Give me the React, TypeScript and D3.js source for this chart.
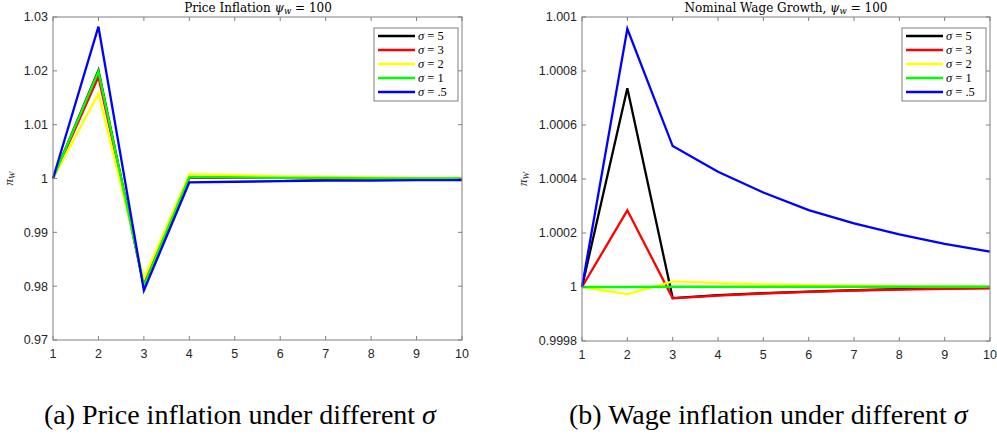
import React from "react";
import * as d3 from "d3";

const periods = [1, 2, 3, 4, 5, 6, 7, 8, 9, 10];
const seriesLabels = ["5", "3", "2", "1", ".5"];
const seriesColors = ["#000000", "#ff0000", "#ffff00", "#00ff00", "#0000ff"];

// Price inflation
const priceS5 = [1, 1.0201, 0.9800, 1.0002, 1.0001, 1.0001, 1.0000, 1.0000, 1.0000, 1.0000];
const priceS3 = [1, 1.0189, 0.9805, 1.0002, 1.0001, 1.0001, 1.0000, 1.0000, 1.0000, 1.0000];
const priceS2 = [1, 1.0158, 0.9814, 1.0008, 1.0006, 1.0004, 1.0003, 1.0002, 1.0001, 1.0001];
const priceS1 = [1, 1.0199, 0.9801, 1.0003, 1.0002, 1.0001, 1.0001, 1.0000, 1.0000, 1.0000];
const priceS05 = [1, 1.0282, 0.9792, 0.9993, 0.9994, 0.9995, 0.9996, 0.9996, 0.9997, 0.9997];

// Nominal wage growth
const wageS5 = [1, 1.000736, 0.999959, 0.99997, 0.999977, 0.999983, 0.999988, 0.999992, 0.999995, 0.999997];
const wageS3 = [1, 1.000284, 0.999958, 0.999968, 0.999976, 0.999982, 0.999987, 0.99999, 0.999993, 0.999995];
const wageS2 = [1, 0.999974, 1.000021, 1.000015, 1.00001, 1.000007, 1.000005, 1.000003, 1.000002, 1.000001];
const wageS1 = [1, 1.0, 1.000001, 1.000001, 1.000001, 1.000001, 1.000001, 1.000001, 1.000001, 1.000001];
const wageS05 = [1, 1.000956, 1.000522, 1.000427, 1.00035, 1.000285, 1.000236, 1.000195, 1.00016, 1.000131];

const priceTicks = [0.97, 0.98, 0.99, 1, 1.01, 1.02, 1.03];
const priceTickLabels = ["0.97", "0.98", "0.99", "1", "1.01", "1.02", "1.03"];
const wageTicks = [0.9998, 1, 1.0002, 1.0004, 1.0006, 1.0008, 1.001];
const wageTickLabels = ["0.9998", "1", "1.0002", "1.0004", "1.0006", "1.0008", "1.001"];

const priceSeries = [priceS5, priceS3, priceS2, priceS1, priceS05];
const wageSeries = [wageS5, wageS3, wageS2, wageS1, wageS05];

const serif = "'Liberation Serif', 'Times New Roman', serif";
const mathSerif = "'DejaVu Serif', 'Liberation Serif', serif";
const sans = "Arial, 'Liberation Sans', Helvetica, sans-serif";
const axisColor = "#808080";
const textColor = "#262626";

type PanelProps = {
  x0: number; x1: number; y0: number; y1: number;
  domain: [number, number];
  ticks: number[]; tickLabels: string[];
  series: number[][];
  titleMain: string; titleX: number;
  ylabelX: number;
  legendX: number;
};

function Panel(p: PanelProps) {
  const xs = d3.scaleLinear().domain([1, 10]).range([p.x0, p.x1]);
  const ys = d3.scaleLinear().domain(p.domain).range([p.y1, p.y0]);
  const line = d3.line<number>().x((_, i) => xs(periods[i])).y((d) => ys(d));
  const tickLen = 4;
  const lw = 84, lh = 73;
  const ly = 28;
  return (
    <g>
      {/* title */}
      <text x={p.titleX} y={12} textAnchor="middle" fontFamily={mathSerif} fontSize={12} fill="#000">
        {p.titleMain}
        <tspan fontStyle="italic">ψ</tspan>
        <tspan fontStyle="italic" fontSize={8.5} dy={2}>w</tspan>
        <tspan dy={-2}> = 100</tspan>
      </text>
      {/* y label */}
      <text transform={`translate(${p.ylabelX},${(p.y0 + p.y1) / 2}) rotate(-90)`} textAnchor="middle"
        fontFamily={serif} fontSize={13} fill={textColor}>
        <tspan fontStyle="italic">π</tspan>
        <tspan fontStyle="italic" fontSize={9} dy={2}>W</tspan>
      </text>
      {/* lines */}
      {p.series.map((s, i) => (
        <path key={i} d={line(s) || ""} fill="none" stroke={seriesColors[i]} strokeWidth={2.3} strokeLinejoin="miter" />
      ))}
      {/* frame */}
      <rect x={p.x0} y={p.y0} width={p.x1 - p.x0} height={p.y1 - p.y0} fill="none" stroke={axisColor} strokeWidth={1} />
      {/* y ticks */}
      {p.ticks.map((t, i) => (
        <g key={"y" + i}>
          <line x1={p.x0} x2={p.x0 + tickLen} y1={ys(t)} y2={ys(t)} stroke={axisColor} />
          <line x1={p.x1} x2={p.x1 - tickLen} y1={ys(t)} y2={ys(t)} stroke={axisColor} />
          <text x={p.x0 - 5} y={ys(t)} dy="0.35em" textAnchor="end" fontFamily={sans} fontSize={12.5} fill={textColor}>
            {p.tickLabels[i]}
          </text>
        </g>
      ))}
      {/* x ticks */}
      {periods.map((t) => (
        <g key={"x" + t}>
          <line x1={xs(t)} x2={xs(t)} y1={p.y1} y2={p.y1 - tickLen} stroke={axisColor} />
          <line x1={xs(t)} x2={xs(t)} y1={p.y0} y2={p.y0 + tickLen} stroke={axisColor} />
          <text x={xs(t)} y={p.y1 + 18} textAnchor="middle" fontFamily={sans} fontSize={12.5} fill={textColor}>
            {t}
          </text>
        </g>
      ))}
      {/* legend */}
      <rect x={p.legendX} y={ly} width={lw} height={lh} fill="#fff" stroke={axisColor} strokeWidth={1} />
      {seriesLabels.map((lab, i) => {
        const yy = ly + 8 + i * 14;
        return (
          <g key={"l" + i}>
            <line x1={p.legendX + 4} x2={p.legendX + 41} y1={yy} y2={yy} stroke={seriesColors[i]} strokeWidth={2.3} />
            <text x={p.legendX + 44} y={yy} dy="0.35em" fontFamily={serif} fontSize={12.5} fill="#000">
              <tspan fontStyle="italic">σ</tspan> = {lab}
            </text>
          </g>
        );
      })}
    </g>
  );
}

export default function App() {
  return (
    <svg width={997} height={437} style={{ position: "absolute", left: 0, top: 0, background: "#fff" }}>
      <rect width={997} height={437} fill="#fff" />
      <Panel x0={53} x1={462} y0={17} y1={340} domain={[0.97, 1.03]} ticks={priceTicks} tickLabels={priceTickLabels}
        series={priceSeries} titleMain="Price Inflation " titleX={258} ylabelX={13} legendX={374} />
      <Panel x0={582} x1={990} y0={17} y1={341} domain={[0.9998, 1.001]} ticks={wageTicks} tickLabels={wageTickLabels}
        series={wageSeries} titleMain="Nominal Wage Growth, " titleX={786} ylabelX={527} legendX={902} />
      <text x={44} y={424} fontFamily={serif} fontSize={28} fill="#000">
        (a) Price inflation under different <tspan fontStyle="italic">σ</tspan>
      </text>
      <text x={569} y={424} fontFamily={serif} fontSize={28} fill="#000">
        (b) Wage inflation under different <tspan fontStyle="italic">σ</tspan>
      </text>
    </svg>
  );
}
